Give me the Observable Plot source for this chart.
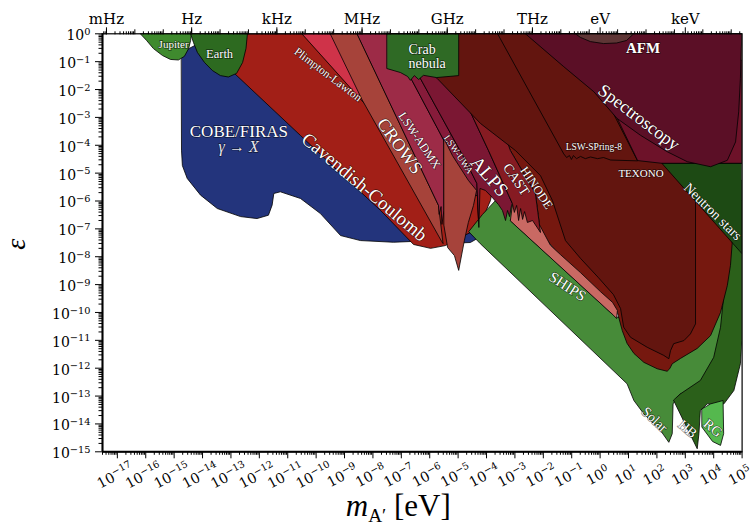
<!DOCTYPE html>
<html><head><meta charset="utf-8">
<script src="https://cdn.jsdelivr.net/npm/d3@7"></script>
<script src="https://cdn.jsdelivr.net/npm/@observablehq/plot@0.6"></script>
<style>
body{margin:0;background:#fff;}
#chart svg{display:block;}
</style>
</head><body><div id="chart"></div>
<script>
// ---- Region outlines: [log10(m_A'/eV), log10(epsilon)] ----
const cobeFiras = [[-14.74,-0.67],[-14.07,-0.31],[-7.03,-0.31],[-4.14,-5.98],[-4.14,-7.24],[-4.57,-7.49],[-5.62,-7.53],[-6.57,-7.45],[-7.28,-7.48],[-8.44,-7.42],[-9.14,-7.24],[-9.85,-6.45],[-10.55,-5.91],[-11.26,-5.67],[-11.49,-5.73],[-11.55,-6.15],[-11.68,-6.51],[-12.08,-6.63],[-12.66,-6.56],[-13.48,-6.27],[-14.07,-5.79],[-14.54,-5.19],[-14.71,-4.73],[-14.74,-4.19]];
const cavendishCoulomb = [[-14.39,0],[-2.80,0],[-3.51,-4.19],[-3.86,-5.98],[-4.28,-6.99],[-4.85,-7.27],[-5.45,-7.60],[-5.97,-7.70],[-6.57,-7.56],[-7.73,-6.34],[-8.79,-5.34],[-10.55,-3.65],[-12.91,-1.39]];
const jupiter = [[-16.19,0],[-15.97,-0.24],[-15.73,-0.53],[-15.41,-0.78],[-15.13,-0.92],[-14.85,-0.94],[-14.64,-0.81],[-14.49,-0.53],[-14.42,-0.24],[-14.39,0]];
const earth = [[-14.42,0],[-14.32,-0.31],[-14.18,-0.67],[-13.93,-1.03],[-13.65,-1.32],[-13.37,-1.50],[-13.09,-1.55],[-12.80,-1.42],[-12.59,-1.03],[-12.47,-0.53],[-12.42,0]];
const plimptonLawton = [[-10.49,0],[-8.79,0],[-8.02,-2.81]];
const crows = [[-9.49,0],[-8.55,0],[-7.03,-3.29],[-5.69,-6.16],[-5.53,-7.53],[-5.58,-7.45],[-8.37,-2.39]];
const lswAdmx = [[-8.55,0],[-7.49,0],[-6.62,-1.68],[-5.50,-3.83],[-5.50,-6.34],[-5.57,-6.84],[-5.60,-6.20],[-5.67,-6.48],[-5.69,-6.16],[-7.03,-3.29]];
const lswUwa = [[-7.49,0],[-7.10,0],[-6.33,-1.60],[-4.74,-4.55],[-4.34,-5.37],[-4.27,-6.95],[-4.32,-5.80],[-4.92,-5.80],[-5.50,-3.83],[-6.62,-1.68]];
const uwaWedge = [[-5.50,-3.76],[-5.20,-4.37],[-4.64,-5.26],[-4.35,-5.62],[-4.46,-6.16],[-4.64,-6.77],[-4.78,-7.42],[-4.98,-8.49],[-5.13,-7.96],[-5.37,-7.67],[-5.50,-6.88]];
const solarShips = [[-4.62,-7.09],[-4.14,-6.48],[-3.68,-5.98],[-3.33,-5.84],[-3.02,-5.98],[-3.02,-6.48],[-3.16,-6.70],[0.48,-10.11],[1.77,-10.65],[3.53,-9.57],[4.41,-7.78],[4.77,-5.98],[5.0,-5.98],[5.0,-11.01],[4.70,-12.62],[3.53,-13.09],[2.83,-12.91],[2.72,-13.04],[2.57,-13.28],[2.54,-14.35],[2.42,-14.66],[2.13,-14.24],[1.54,-13.64],[1.19,-13.16],[0.95,-12.56],[-4.21,-7.54]];
const hb = [[2.59,-13.16],[3.42,-14.89],[3.48,-14.35],[3.53,-13.52],[3.77,-13.28],[4.36,-13.28],[4.71,-12.80],[4.94,-11.84],[5.0,-11.01],[5.0,-5.26],[4.70,-5.26],[4.59,-7.78],[4.36,-9.33],[4.24,-10.53],[4.00,-11.61],[3.53,-12.44],[2.83,-12.92]];
const rg = [[3.59,-13.46],[3.89,-13.28],[4.33,-13.16],[4.35,-14.35],[4.24,-14.77],[3.96,-14.63],[3.59,-14.12]];
const hinode = [[-4.57,-0.96],[-3.16,-4.19],[-2.28,-5.73],[-2.10,-7.13],[-1.40,-7.99],[-0.69,-8.64],[0.01,-9.32],[0.44,-9.71],[0.61,-10.00],[0.78,-10.65],[0.95,-11.11],[1.19,-11.47],[1.54,-11.79],[2.01,-12.02],[2.36,-12.11],[2.45,-12.02],[2.54,-11.84],[2.83,-11.65],[3.42,-11.29],[3.89,-10.83],[4.24,-10.00],[4.48,-9.03],[4.59,-8.31],[4.65,-7.53],[4.65,-4.19],[0.01,-0.96]];
const salmonStrip = [[-3.16,-6.70],[-3.09,-6.16],[-2.63,-6.16],[-2.35,-6.52],[-2.10,-6.92],[-1.75,-7.59],[-1.40,-7.92],[-0.69,-8.57],[0.01,-9.25],[0.44,-9.64],[0.61,-9.93],[0.58,-10.22],[0.48,-10.11]];
const alps = [[-7.10,0],[-6.33,-1.60],[-4.74,-4.55],[-4.34,-5.37],[-4.27,-6.95],[-4.23,-5.55],[-4.04,-5.62],[-3.80,-5.87],[-3.58,-6.13],[-3.44,-6.34],[-3.33,-6.70],[-3.26,-6.34],[-3.19,-6.56],[-3.12,-6.16],[-3.09,-6.09],[-3.93,-4.19],[-4.92,-2.04],[-5.62,0]];
const cast = [[-5.62,0],[-4.92,-2.04],[-3.93,-4.19],[-3.09,-6.09],[-3.02,-6.41],[-2.94,-6.16],[-2.87,-6.70],[-2.80,-6.27],[-2.73,-6.66],[-2.66,-6.38],[-2.56,-6.77],[-2.38,-6.70],[-2.10,-7.13],[-2.28,-5.73],[-3.16,-4.19],[-4.57,0]];
const texonoXenon = [[-7.38,0],[-5.74,-1.60],[-4.21,-3.22],[-2.98,-4.19],[-2.10,-5.09],[-1.68,-5.98],[-1.22,-7.42],[-0.69,-8.06],[-0.06,-8.75],[0.47,-9.36],[0.72,-9.86],[0.83,-10.53],[1.07,-10.89],[1.66,-11.25],[2.24,-11.54],[2.42,-11.66],[2.48,-11.37],[2.59,-11.12],[2.95,-11.01],[3.18,-10.77],[3.36,-10.41],[3.36,-4.65],[5.0,-4.65],[5.0,0]];
const lswSpring8 = [[-3.61,0],[-2.51,-2.04],[-1.28,-4.31],[-1.18,-4.44],[-1.08,-4.37],[-1.01,-4.51],[-0.94,-4.37],[-0.83,-4.48],[-0.69,-4.40],[-0.52,-4.48],[-0.34,-4.42],[-0.09,-4.48],[0.12,-4.44],[0.37,-4.53],[1.32,-4.56],[-0.97,0]];
const crimsonBand = [[0.05,-1.86],[1.32,-4.55],[2.20,-4.65],[5.0,-4.65],[5.0,-0.96]];
const neutronStars = [[2.19,-4.65],[5.0,-4.65],[5.0,-7.88]];
const spectroscopy = [[-2.63,0],[-1.28,-1.18],[-0.22,-2.08],[0.60,-3.04],[1.42,-3.64],[2.36,-4.23],[3.07,-4.59],[3.89,-4.77],[4.48,-4.54],[4.77,-3.88],[4.88,-2.80],[4.94,-1.60],[4.97,-0.53],[5.0,0]];
const afm = [[-0.87,0],[-0.69,-0.13],[-0.34,-0.28],[0.12,-0.35],[0.58,-0.33],[0.93,-0.24],[1.18,0]];
const crabNebula = [[-7.50,0],[-4.98,0],[-4.98,-1.50],[-5.76,-1.57],[-6.22,-1.49],[-6.39,-1.64],[-6.54,-1.50],[-6.68,-1.67],[-6.78,-1.53],[-7.03,-1.39],[-7.50,-1.25]];

// ---- Axis ticks ----
const xMajorExp = d3.range(-17, 6);
const yMajorExp = d3.range(-15, 1);
const minorFactors = [2,3,4,5,6,7,8,9];
const topFreqLabels = ["mHz","Hz","kHz","MHz","GHz","THz"];
const topFreqHz = [1e-3, 1, 1e3, 1e6, 1e9, 1e12];
const topEnergyLabels = ["eV","keV"];
const topEnergyEv = [1, 1e3];
const hzToEv = 4.135667696e-15;

// ---- Labels (text, log m, log eps, angle, size) ----
const labelText = ["Jupiter","Earth","COBE/FIRAS","Cavendish-Coulomb","Plimpton-Lawton","CROWS","LSW-ADMX","LSW-UWA","ALPS","CAST","HINODE","Spectroscopy","LSW-SPring-8","TEXONO","Neutron stars","SHIPS","Solar","HB","RG"];
const labelLogM = [-15.02,-13.40,-12.72,-8.30,-9.58,-7.06,-6.36,-4.99,-3.90,-2.95,-2.24,1.37,-0.22,1.44,3.97,-1.15,1.92,3.08,3.97];
const labelLogE = [-0.37,-0.72,-3.51,-5.50,-1.46,-4.03,-3.83,-4.33,-5.12,-5.23,-5.53,-3.00,-4.06,-5.00,-6.38,-9.07,-13.84,-14.18,-14.15];
const labelAngle = [0,0,0,40,37,54,56,56,49,56,56,37,0,0,44.5,33,43,40,40];
const labelSize = [11,12.5,17,19,11.5,18,12,9.5,19,14,12.5,18,9.5,11,14,15,14,14,14];

// ---- Build ----
const X = d => 10 ** d[0], Y = d => 10 ** d[1];
const regions = [
  [cobeFiras, "#23347c"], [cavendishCoulomb, "#a21f17"], [jupiter, "#3f8a2e"], [earth, "#2d6a20"],
  [plimptonLawton, "#cf3349"], [crows, "#a6433a"], [lswAdmx, "#9d2b47"], [lswUwa, "#861b3a"],
  [uwaWedge, "#a6433b"], [solarShips, "#478b39"], [hb, "#2b601a"], [rg, "#55b84e"],
  [hinode, "#76180f"], [salmonStrip, "#c96963"], [alps, "#7b1733"], [cast, "#861b22"],
  [texonoXenon, "#63150f"], [lswSpring8, "#63150f"], [crimsonBand, "#6d1229"], [neutronStars, "#1d4a14"],
  [spectroscopy, "#5b0f26"], [afm, "#5e3535"], [crabNebula, "#2f6a25"]
];

const xMinor = [], yMinor = [], topMinor = [], topMajor = [];
for (let n = -18; n <= 4; n++) for (const k of minorFactors) { const v = k * 10 ** n; if (v >= 3e-18 && v <= 1e5) xMinor.push(v); }
for (let n = -15; n <= -1; n++) for (const k of minorFactors) yMinor.push(k * 10 ** n);
for (let n = -4; n <= 20; n++) {
  const m = 10 ** n * hzToEv; if (m >= 3e-18 && m <= 1e5) topMajor.push(m);
  for (const k of minorFactors) { const mm = k * 10 ** n * hzToEv; if (mm >= 3e-18 && mm <= 1e5) topMinor.push(mm); }
}
const topLabelTicks = topFreqHz.map(f => f * hzToEv).concat(topEnergyEv);
const topLabels = topFreqLabels.concat(topEnergyLabels).map((t, i) => ({t, m: topLabelTicks[i]}));

const sup = n => "10^" + (n < 0 ? "\u2212" + (-n) : String(n));
const labels = labelText.map((t, i) => ({t, m: 10 ** labelLogM[i], e: 10 ** labelLogE[i], a: labelAngle[i], s: labelSize[i]}));
const halo = {fill: "white", stroke: "black", strokeOpacity: 0.55, strokeWidth: 1.3, fontFamily: "Liberation Serif"};
const blank = () => "";

const plot = Plot.plot({
  width: 752, height: 529,
  marginLeft: 102, marginRight: 10.4, marginTop: 33.3, marginBottom: 77.7,
  x: {type: "log", domain: [3e-18, 1e5]},
  y: {type: "log", domain: [1e-15, 1]},
  style: {background: "white", color: "black"},
  marks: [
    ...regions.map(([pts, c]) => Plot.line(pts, {x: X, y: Y, fill: c, stroke: "black", strokeWidth: 0.8, curve: "linear-closed", clip: true})),
    Plot.text(labels, {x: "m", y: "e", text: "t", rotate: "a", fontSize: "s", ...halo}),
    Plot.text(["\u03b3 \u2192 X"], {x: 10 ** -12.73, y: 10 ** -4.06, fontSize: 16, fontStyle: "italic", ...halo, fill: "#e6e6ee"}),
    Plot.text(["Crab\nnebula"], {x: 10 ** -6.75, y: 10 ** -0.81, fontSize: 14, textAnchor: "start", lineHeight: 1.0, ...halo}),
    Plot.text(["AFM"], {x: 10 ** 1.51, y: 10 ** -0.53, fontSize: 15, fontWeight: "bold", ...halo}),
    Plot.frame({stroke: "black", strokeWidth: 1.2}),
    Plot.ruleX([3e-18], {stroke: "black", strokeWidth: 2}),
    Plot.ruleY([1e-15], {stroke: "black", strokeWidth: 2}),
    Plot.axisX({ticks: xMinor, anchor: "bottom", tickSize: 3.5, tickFormat: blank, label: null}),
    Plot.axisX({ticks: xMajorExp.map(n => 10 ** n), anchor: "bottom", tickSize: 7, tickFormat: blank, label: null}),
    Plot.axisY({ticks: yMinor, anchor: "left", tickSize: 3.5, tickFormat: blank, label: null}),
    Plot.axisY({ticks: yMajorExp.map(n => 10 ** n), anchor: "left", tickSize: 7, tickFormat: blank, label: null}),
    Plot.axisX({ticks: topMinor, anchor: "top", tickSize: 3, tickFormat: blank, label: null}),
    Plot.axisX({ticks: topMajor, anchor: "top", tickSize: 5, tickFormat: blank, label: null}),
    Plot.axisX({ticks: topLabelTicks, anchor: "top", tickSize: 7, tickFormat: blank, label: null}),
    Plot.text(yMajorExp, {y: n => 10 ** n, text: sup, frameAnchor: "left", dx: -12, dy: 2, textAnchor: "end", fontSize: 14, fontFamily: "DejaVu Serif", fill: "black"}),
    Plot.text(xMajorExp, {x: n => 10 ** n, text: sup, frameAnchor: "bottom", dy: 28, rotate: -28, textAnchor: "middle", fontSize: 14, fontFamily: "DejaVu Serif", fill: "black"}),
    Plot.text(topLabels, {x: "m", text: "t", frameAnchor: "top", dy: -20, fontSize: 15, fontFamily: "DejaVu Serif", fill: "black"}),
    Plot.text(["@@EPS"], {frameAnchor: "left", dx: -86, dy: 7, rotate: -90, fontSize: 28, fontStyle: "italic", fontFamily: "Liberation Serif", fill: "black"}),
    Plot.text(["@@MASS"], {frameAnchor: "bottom", dx: -24, dy: 64, fontSize: 31, fontFamily: "Liberation Serif", fill: "black"})
  ]
});

// superscripts / subscripts as real text tspans
d3.select(plot).selectAll("text").each(function () {
  const t = this.textContent;
  const s = d3.select(this);
  let m;
  if ((m = /^10\^(.+)$/.exec(t))) {
    s.text(null);
    s.append("tspan").text("10");
    s.append("tspan").attr("dy", "-0.55em").attr("font-size", "0.7em").text(m[1]);
  } else if (t === "@@EPS") {
    s.text("\u03b5");
  } else if (t === "@@MASS") {
    s.text(null);
    s.append("tspan").attr("font-style", "italic").text("m");
    s.append("tspan").attr("dy", "0.3em").attr("font-size", "0.62em").text("A\u2032");
    s.append("tspan").attr("dy", "-0.19em").text(" [eV]");
  }
});

document.getElementById("chart").appendChild(plot);
</script></body></html>
